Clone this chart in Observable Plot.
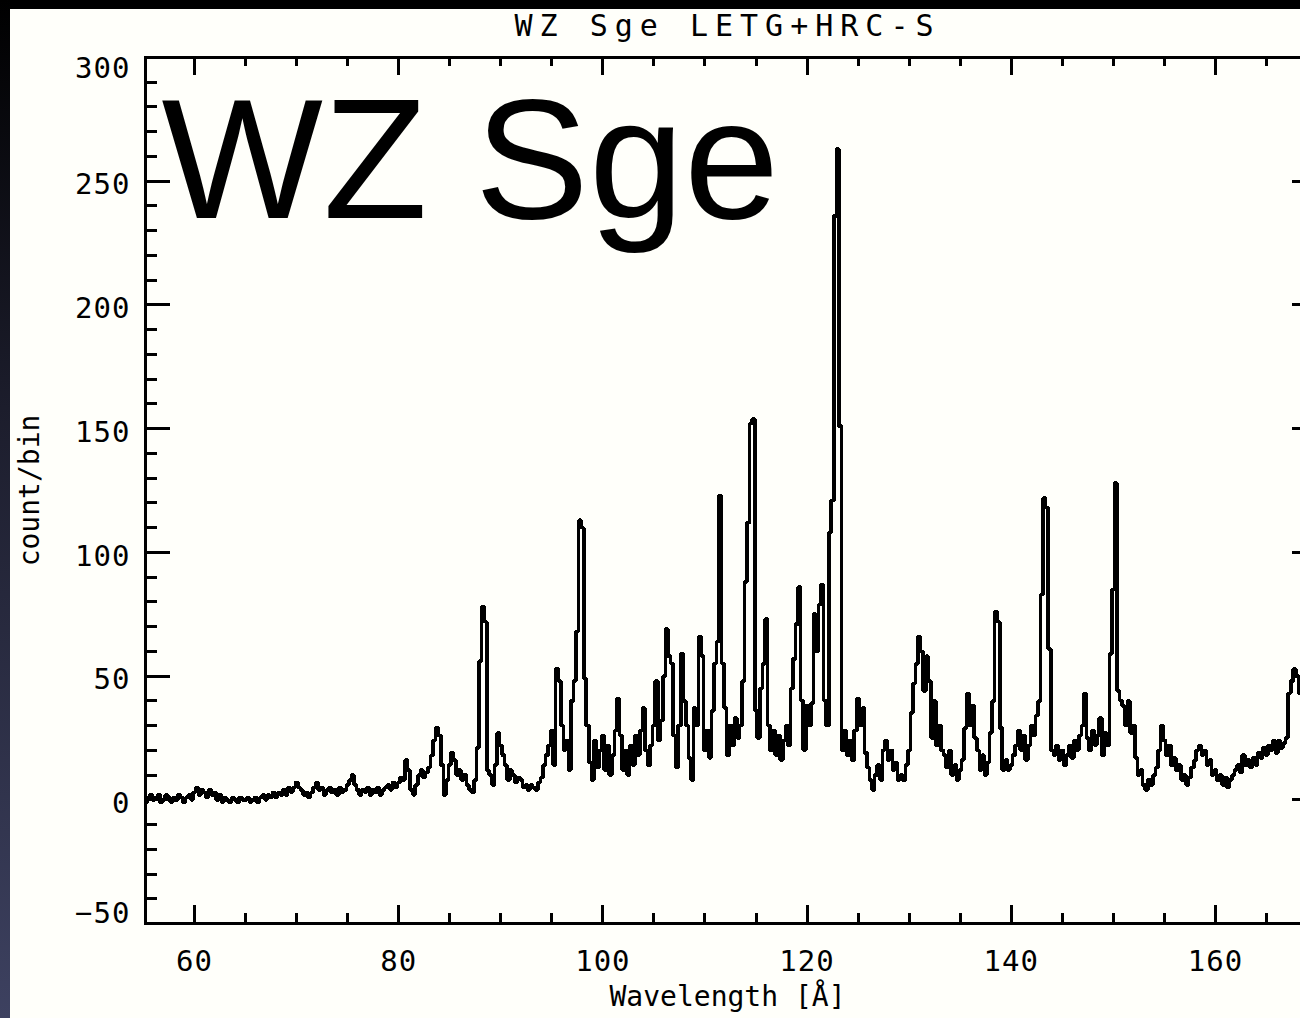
<!DOCTYPE html>
<html><head><meta charset="utf-8">
<script src="https://cdn.jsdelivr.net/npm/d3@7"></script>
<script src="https://cdn.jsdelivr.net/npm/@observablehq/plot@0.6"></script>
<style>
html,body{margin:0;padding:0;background:#000;width:1300px;height:1018px;overflow:hidden;}
#strip{position:absolute;left:0;top:0;width:10px;height:1018px;background:linear-gradient(#000 0%, #1c1d2c 40%, #3d4160 100%);}
#panel{position:absolute;left:10px;top:9px;width:1290px;height:1009px;background:#fffffa;overflow:hidden;}
#panel svg{max-width:none;display:block;}
</style></head><body>
<div id="strip"></div><div id="panel"></div>
<script>
// Spectrum: counts per 0.25 Å bin, first bin centred at 55.00 Å
const startWavelength = 55.0;
const binWidth = 0.25;
const counts = [
  1,-1,1,2,0,1,2,-1,0,2,1,-1,1,0,2,1,-1,1,2,0,      // 55
  3,5,2,4,3,1,4,2,3,0,2,-1,1,0,-1,1,0,-1,1,0,       // 60
  0,1,-1,0,1,-1,1,2,0,2,1,3,1,3,2,4,2,5,3,5,        // 65
  7,5,4,2,3,1,3,5,7,4,5,2,4,5,3,4,2,5,3,4,          // 70
  6,8,10,6,4,2,4,3,5,2,4,3,5,2,4,5,6,4,7,5,         // 75
  7,9,8,16,12,4,2,6,10,12,9,11,13,18,24,29,26,14,2,8,   // 80
  14,19,16,10,12,8,10,6,4,3,8,21,56,78,72,12,10,6,14,27, // 85
  22,18,14,8,12,10,7,9,8,5,6,4,6,5,4,7,9,14,18,22,      // 90
  28,14,53,48,30,20,24,12,40,48,68,113,110,49,30,15,8,24,13,20, // 95
  26,12,22,10,18,28,41,26,12,20,10,22,14,26,18,28,37,20,14,22,  // 100
  30,48,24,32,50,69,58,55,26,13,30,59,40,30,17,8,37,30,66,58,   // 105
  20,28,17,36,55,64,123,55,37,18,30,22,33,25,30,48,88,112,152,154, // 110
  36,25,45,55,73,30,20,28,18,26,16,24,30,22,45,57,71,86,40,20,  // 115
  38,30,39,75,60,79,87,40,30,108,121,236,263,151,20,28,18,24,16,28, // 120
  41,30,37,19,13,8,4,10,14,8,20,24,16,20,12,15,8,10,8,14,       // 125
  20,35,47,55,66,60,44,58,48,25,40,22,30,20,18,13,20,10,14,8,   // 130
  12,16,29,43,30,38,25,20,12,18,10,15,27,40,76,72,29,12,16,12,  // 135
  14,18,22,28,20,26,16,22,30,26,34,40,83,122,118,61,20,18,22,16, // 140
  20,14,18,22,17,24,20,26,30,43,25,20,28,22,26,33,18,27,22,59,  // 145
  85,128,44,40,38,30,40,27,30,17,10,12,6,4,8,6,10,13,20,30,     // 150
  24,18,22,14,17,12,14,8,10,6,9,13,16,20,22,18,20,14,16,10,     // 155
  12,8,10,6,9,5,8,10,12,14,11,18,14,16,13,17,14,19,17,21,       // 160
  18,22,20,24,19,24,21,23,25,43,48,53,50,43,45,38,35,30,28,26   // 165
];
const xMajorTicks = [60, 80, 100, 120, 140, 160];
const xMinorTicks = [65, 70, 75, 85, 90, 95, 105, 110, 115, 125, 130, 135, 145, 150, 155, 165];
const yMajorTicks = [-50, 0, 50, 100, 150, 200, 250, 300];
const yMinorTicks = [-40, -30, -20, -10, 10, 20, 30, 40, 60, 70, 80, 90, 110, 120, 130, 140,
                     160, 170, 180, 190, 210, 220, 230, 240, 260, 270, 280, 290];
const titleText = "WZ Sge LETG+HRC-S";
const bigLabel = "WZ Sge";
const xLabel = "Wavelength [Å]";
const yLabel = "count/bin";

const data = counts.map((c, i) => ({wl: startWavelength + i * binWidth, c}));

const W = 1310, H = 1009, mL = 135, mR = 3, mT = 48, mB = 95;
const fw = W - mL - mR, fh = H - mT - mB;
const mono = "DejaVu Sans Mono, monospace";
const crisp = {strokeWidth: 3, shapeRendering: "crispEdges"};

const chart = Plot.plot({
  width: W, height: H,
  marginLeft: mL, marginRight: mR, marginTop: mT, marginBottom: mB,
  x: {domain: [55.2, 170], axis: null},
  y: {domain: [-50, 300], axis: null},
  style: {background: "transparent", color: "#000"},
  marks: [
    Plot.line(data, {x: "wl", y: "c", curve: "step", stroke: "#000", strokeWidth: 3.6, clip: true, strokeLinejoin: "miter", shapeRendering: "crispEdges"}),
    Plot.frame({stroke: "#000", ...crisp}),
    // inward ticks
    Plot.tickX(xMajorTicks, {x: d => d, insetTop: fh - 18, ...crisp}),
    Plot.tickX(xMinorTicks, {x: d => d, insetTop: fh - 10, ...crisp}),
    Plot.tickX(xMajorTicks, {x: d => d, insetBottom: fh - 18, ...crisp}),
    Plot.tickX(xMinorTicks, {x: d => d, insetBottom: fh - 9, ...crisp}),
    Plot.tickY(yMajorTicks, {y: d => d, insetRight: fw - 25, ...crisp}),
    Plot.tickY(yMinorTicks, {y: d => d, insetRight: fw - 12, ...crisp}),
    Plot.tickY(yMajorTicks, {y: d => d, insetLeft: fw - 25, ...crisp}),
    Plot.tickY(yMinorTicks, {y: d => d, insetLeft: fw - 12, ...crisp}),
    // tick labels
    Plot.text(xMajorTicks, {x: d => d, text: d => String(d), frameAnchor: "bottom", dy: 38, lineAnchor: "middle", fontSize: 29, fontFamily: mono}),
    Plot.text(yMajorTicks, {filter: d => d > -50 && d < 300, y: d => d, text: d => String(d), frameAnchor: "left", dx: -15, dy: 4, textAnchor: "end", lineAnchor: "middle", fontSize: 29, fontFamily: mono}),
    Plot.text(yMajorTicks, {filter: d => d === 300, y: d => d, text: d => String(d), frameAnchor: "left", dx: -15, dy: 11, textAnchor: "end", lineAnchor: "middle", fontSize: 29, fontFamily: mono}),
    Plot.text(yMajorTicks, {filter: d => d === -50, y: d => d, text: d => "\u2212" + Math.abs(d), frameAnchor: "left", dx: -15, dy: -10, textAnchor: "end", lineAnchor: "middle", fontSize: 29, fontFamily: mono}),
    // titles
    Plot.text([titleText], {text: d => d, frameAnchor: "top", dx: -4, dy: -31, textAnchor: "middle", lineAnchor: "middle", fontSize: 30, fontFamily: mono}),
    Plot.text([xLabel], {text: d => d, frameAnchor: "bottom", dx: -4, dy: 74, textAnchor: "middle", lineAnchor: "middle", fontSize: 28, fontFamily: mono}),
    Plot.text([yLabel], {text: d => d, frameAnchor: "left", dx: -115, rotate: -90, textAnchor: "middle", lineAnchor: "middle", fontSize: 28, fontFamily: mono}),
    Plot.text([bigLabel], {text: d => d, frameAnchor: "top-left", dx: 16, dy: 39, textAnchor: "start", lineAnchor: "top", fontSize: 171, fontFamily: "Liberation Sans, Arial, sans-serif"})
  ]
});
document.getElementById("panel").appendChild(chart);
d3.select(chart).selectAll("text").filter(function() { return this.textContent === titleText; })
  .attr("letter-spacing", 7);
d3.select(chart).selectAll("text").filter(function() { return /^[\u22120-9]+$/.test(this.textContent); })
  .attr("letter-spacing", 1);
</script>
</body></html>
